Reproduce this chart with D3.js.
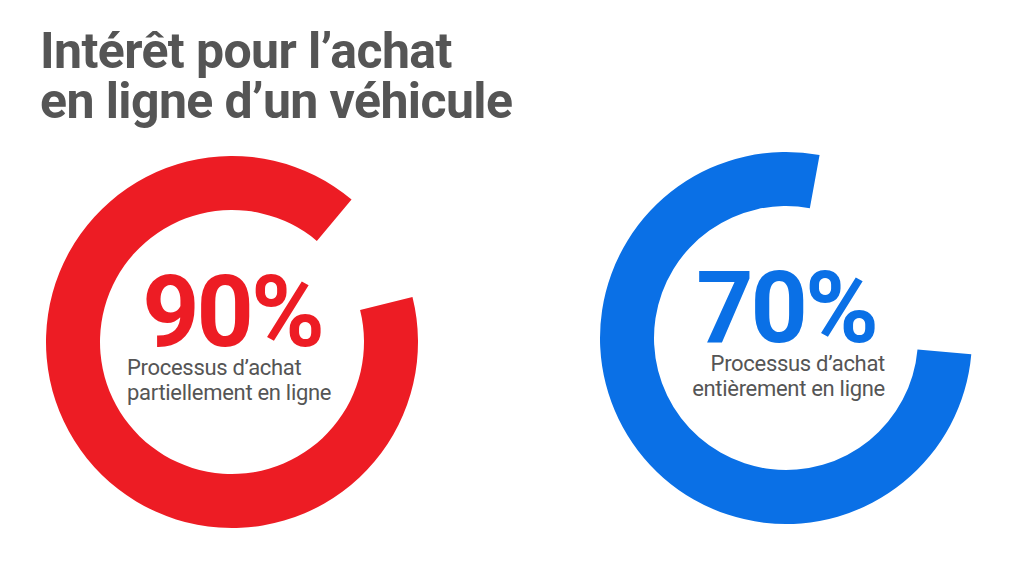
<!DOCTYPE html><html><head><meta charset="utf-8"><script src="https://cdn.jsdelivr.net/npm/d3@7"></script>
<style>body{margin:0;background:#fff}</style></head><body><svg id="c" width="1024" height="567"></svg>
<script>
const titleLines = ["Intérêt pour l’achat", "en ligne d’un véhicule"];
const labels = ["90%", "70%"];
const arcShare = [0.9, 0.765];
const startDeg = [76, 95];
const subLines = [["Processus d’achat", "partiellement en ligne"], ["Processus d’achat", "entièrement en ligne"]];
const colors = ["#ED1C24", "#0A70E6"];
const centers = [[232, 342], [786, 338]];
const align = ["start", "end"];
const textX = [127, 885];

const svg = d3.select("#c");
const F = "Roboto, 'Liberation Sans', sans-serif";
svg.selectAll("text.t").data(titleLines).join("text").attr("class","t")
  .attr("x", 40).attr("y", (d,i)=>68+i*50).attr("font-family",F).attr("font-weight",700)
  .attr("font-size",50).attr("fill","#555").attr("letter-spacing","-0.6").text(d=>d);
const angle = d3.scaleLinear().domain([0,1]).range([0, 2*Math.PI]);
const arc = d3.arc().innerRadius(132).outerRadius(186);
labels.forEach((lab,i)=>{
  const g = svg.append("g").attr("transform",`translate(${centers[i]})`);
  const s = startDeg[i]*Math.PI/180;
  g.append("path").attr("d", arc({startAngle:s, endAngle:s+angle(arcShare[i])})).attr("fill",colors[i]);
  g.append("text").attr("x",0).attr("y",4).attr("text-anchor","middle").attr("font-family",F)
   .attr("font-weight",700).attr("font-size",100).attr("fill",colors[i]).attr("letter-spacing","-3").text(lab);
  svg.selectAll(null).data(subLines[i]).join("text").attr("x",textX[i]).attr("y",(d,j)=>centers[i][1]+33+j*25)
   .attr("text-anchor",align[i]).attr("font-family",F).attr("font-size",22).attr("fill","#555")
   .attr("letter-spacing","-0.3").text(d=>d);
});
</script></body></html>
